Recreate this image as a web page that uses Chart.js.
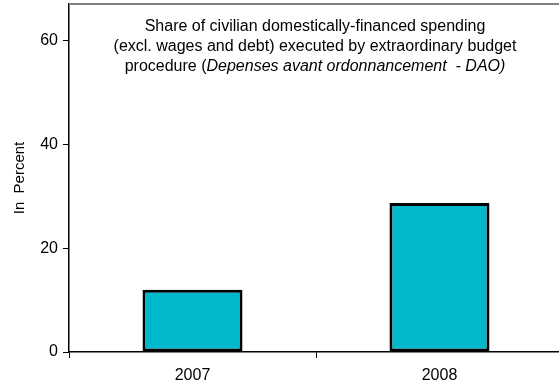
<!DOCTYPE html>
<html>
<head>
<meta charset="utf-8">
<script src="https://cdn.jsdelivr.net/npm/chart.js@4/dist/chart.umd.min.js"></script>
<style>
  html, body { margin: 0; padding: 0; background: #fff; overflow: hidden; }
  #wrap { width: 563px; height: 386px; }
</style>
</head>
<body>
<div id="wrap"><canvas id="canvas"></canvas></div>
<script>
const years = ["2007", "2008"];
const daoShare = [12, 28.7];
const yTicks = [0, 20, 40, 60];
const titleLines = [
   "Share of civilian domestically-financed spending",
   "(excl. wages and debt) executed by extraordinary budget"
];
const titleLast = ["procedure (", "Depenses avant ordonnancement  - DAO)"];

const FONT = "'Liberation Sans', Arial, sans-serif";
const TXT = 16;

// heading sits inside the plot, plus the grey frame line on top
const innerTitle = {
   id: "innerTitle",
   afterDraw(chart) {
      const { ctx, chartArea } = chart;
      const cx = (chartArea.left + chartArea.right) / 2 - 1;
      ctx.save();
      ctx.strokeStyle = "#808080";
      ctx.lineWidth = 2;
      ctx.beginPath();
      ctx.moveTo(chartArea.left, chartArea.top);
      ctx.lineTo(chartArea.right, chartArea.top);
      ctx.stroke();

      const normal = TXT + "px " + FONT;
      const italic = "italic " + TXT + "px " + FONT;
      ctx.fillStyle = "#000";
      ctx.textBaseline = "middle";
      ctx.textAlign = "center";
      ctx.font = normal;
      titleLines.forEach((t, i) => ctx.fillText(t, cx, chartArea.top + 23 + i * 20));

      const w1 = ctx.measureText(titleLast[0]).width;
      ctx.font = italic;
      const w2 = ctx.measureText(titleLast[1]).width;
      const x = cx - (w1 + w2) / 2;
      const y = chartArea.top + 63;
      ctx.textAlign = "left";
      ctx.font = normal;
      ctx.fillText(titleLast[0], x, y);
      ctx.font = italic;
      ctx.fillText(titleLast[1], x + w1, y);
      ctx.restore();
   }
};

new Chart(document.getElementById("canvas"), {
   type: "bar",
   data: {
      labels: years,
      datasets: [
         {
            data: daoShare,
            backgroundColor: "#00B8CC",
            borderColor: "#000",
            borderWidth: 3,
            borderSkipped: false,
            barPercentage: 1,
            categoryPercentage: 0.405
         }
      ]
   },
   options: {
      responsive: true,
      maintainAspectRatio: false,
      animation: false,
      layout: { padding: { top: 4, left: 0, right: 0, bottom: 0 } },
      plugins: {
         legend: { display: false },
         tooltip: { enabled: false }
      },
      scales: {
         x: {
            grid: {
               offset: true,
               drawOnChartArea: false,
               drawTicks: true,
               tickLength: 6,
               color: "#000",
               lineWidth: 1
            },
            border: { color: "#000", width: 1.5 },
            ticks: {
               color: "#000",
               font: { family: FONT, size: TXT },
               padding: 8
            },
            afterFit(scale) {
               scale.height = 34;
               scale.paddingLeft = 0;
               scale.paddingRight = 0;
            }
         },
         y: {
            min: 0,
            max: 67,
            afterBuildTicks(scale) {
               scale.ticks = yTicks.map(v => ({ value: v }));
            },
            grid: {
               drawOnChartArea: false,
               drawTicks: true,
               tickLength: 6,
               color: "#000",
               lineWidth: 1
            },
            border: { color: "#000", width: 1.5 },
            ticks: {
               color: "#000",
               font: { family: FONT, size: TXT },
               padding: 5
            },
            title: {
               display: true,
               text: "In  Percent",
               color: "#000",
               font: { family: FONT, size: 15 },
               padding: { top: 11, bottom: 0 }
            },
            afterFit(scale) {
               scale.width = 69;
               // no extra room for the top tick label
               scale.paddingTop = 0;
               scale.paddingBottom = 0;
            }
         }
      }
   },
   plugins: [innerTitle]
});
</script>
</body>
</html>
